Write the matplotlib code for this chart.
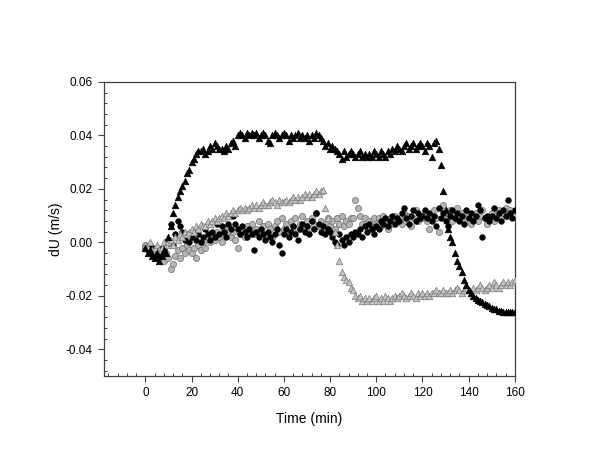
import numpy as np
import matplotlib
matplotlib.use("Agg")
import matplotlib.pyplot as plt
from matplotlib.ticker import MultipleLocator, FormatStrFormatter

plt.rcParams['font.family'] = ['Liberation Sans', 'DejaVu Sans']

# --- Data (dU values, in 1e-3 m/s; one sample per minute) ---
time_min = np.arange(0, 161)

black_tri = [
    -2, -4, -3, -5, -6, -4, -7, -5, -3, -4,
    2, 6, 11, 14, 17, 19, 21, 23, 26, 27,
    30, 31, 33, 34, 34, 35, 33, 34, 36, 35,
    37, 36, 35, 35, 34, 36, 35, 37, 38, 36,
    40, 41, 40, 39, 41, 40, 41, 40, 41, 39,
    40, 41, 40, 38, 37, 40, 41, 40, 39, 40,
    41, 40, 38, 40, 39, 40, 41, 39, 40, 39,
    40, 38, 40, 39, 41, 40, 39, 38, 36, 37,
    35, 36, 35, 34, 33, 31, 34, 32, 33, 34,
    33, 32, 33, 34, 32, 33, 32, 33, 32, 34,
    33, 32, 34, 33, 32, 34, 33, 35, 34, 36,
    35, 34, 36, 37, 35, 36, 37, 35, 36, 37,
    36, 34, 37, 36, 32, 37, 38, 35, 29, 19,
    12, 5, 2, 0, -4, -7, -9, -11, -14, -16,
    -18, -19, -20, -21, -21.5, -22, -22.5, -23, -23.5, -24,
    -24.5, -25, -25, -25.5, -25.5, -26, -26, -26, -26.2, -26.2,
    -26.2,
]

gray_tri = [
    -1, -2, 0, -3, -2, -1, -3, -2, 0, -1,
    0, 1, -1, 2, 1, 3, 2, 4, 3, 4,
    5, 4, 6, 5, 7, 6, 6, 8, 7, 8,
    9, 8, 9, 10, 9, 11, 10, 11, 12, 11,
    12, 13, 12, 13, 12, 13, 14, 13, 14, 13,
    14, 15, 14, 14, 15, 16, 15, 14, 16, 15,
    15, 16, 15, 16, 17, 16, 17, 16, 17, 18,
    17, 18, 17, 18, 19, 18, 19, 19.5, 13, 9,
    np.nan, np.nan, 4, -1, -7, -11, -13, -14, -15, -17,
    -18, -20, -21, -20, -22, -21, -22, -21, -22, -21,
    -20, -22, -21, -22, -20, -21, -22, -21, -20, -21,
    -20, -19, -20, -21, -20, -19, -20, -21, -19, -20,
    -19, -20, -19, -20, -19, -19, -18, -19, -19, -18,
    -19, -19, -18, -19, -18, -17, -18, -19, -18, -17,
    -18, -19, -17, -18, -17, -16, -17, -18, -17, -16,
    -17, -15, -16, -17, -16, -15, -16, -15, -16, -15,
    -14,
]

black_circ = [
    -2, -3, -1, -4, -2, -3, -5, -2, -3, -1,
    1, 7, -1, 3, 8, 6, 4, 1, 3, 0,
    2, 4, 1, 3, 0, 2, 5, 3, 1, 4,
    2, 7, 3, 6, 4, 2, 7, 5, 10, 7,
    5, 3, 6, 4, 2, 5, 3, -3, 4, 2,
    5, 3, 1, 4, 2, 0, 3, 5, -1, -4,
    3, 5, 2, 4, 6, 3, 1, 5, 7, 4,
    6, 3, 8, 5, 11, 7, 4, 6, 3, 5,
    4, 2, 0, -1, 3, 1, -1, 2, 0, 3,
    2, 4, 3, 5, 2, 6, 4, 7, 5, 3,
    6, 5, 8, 7, 9, 6, 8, 10, 7, 9,
    8, 11, 13, 9, 7, 10, 12, 8, 11, 9,
    10, 12, 9, 11, 8, 10, 6, 13, 9, 11,
    8, 6, 10, 12, 9, 11, 8, 10, 7, 12,
    9, 11, 8, 10, 14, 12, 2, 9, 10, 8,
    10, 13, 9, 11, 8, 12, 10, 16, 11, 9,
    12,
]

gray_circ = [
    -1, -3, -2, -4, -5, -2, -6, -3, -7, -4,
    -6, -10, -8, -5, -3, -6, -2, -4, -1, -3,
    -4, -2, -6, -1, -3, 0, -2, 2, 0, 3,
    1, 4, 2, 0, 5, 3, 6, 2, 4, 1,
    -2, 3, 5, 2, 6, 4, 7, 3, 5, 8,
    4, 6, 3, 7, 5, 2, 6, 8, 4, 9,
    5, 7, 4, 8, 6, 9, 5, 7, 10, 6,
    8, 5, 9, 7, 11, 6, 8, 4, 7, 9,
    6, 8, 5, 9, 7, 10, 6, 8, 7, 9,
    9, 16, 13, 10, 7, 9, 6, 8, 5, 9,
    7, 9, 6, 10, 8, 5, 9, 7, 10, 8,
    9, 7, 11, 8, 10, 6, 9, 12, 8, 10,
    9, 11, 8, 5, 10, 12, 9, 4, 13, 14,
    11, 9, 12, 8, 10, 13, 9, 11, 8, 10,
    10, 7, 9, 11, 8, 10, 12, 9, 7, 10,
    11, 8, 10, 12, 9, 11, 13, 10, 12, 11,
    10,
]

series = [
    (gray_circ, 'o', '#b4b4b4', '#6e6e6e', 20),
    (black_circ, 'o', 'black', 'black', 16),
    (gray_tri, '^', '#c4c4c4', '#7a7a7a', 22),
    (black_tri, '^', 'black', 'black', 22),
]

fig = plt.figure(figsize=(6.0, 4.73), dpi=100)
ax = fig.add_axes([0.173, 0.205, 0.685, 0.622])

for vals, marker, fc, ec, size in series:
    y = np.array(vals, dtype=float) / 1000.0
    ax.scatter(time_min, y, marker=marker, s=size, facecolor=fc,
               edgecolor=ec, linewidths=0.5, zorder=3)

ax.set_xlim(-18, 160)
ax.set_ylim(-0.05, 0.06)
ax.xaxis.set_major_locator(MultipleLocator(20))
ax.xaxis.set_minor_locator(MultipleLocator(4))
ax.yaxis.set_major_locator(MultipleLocator(0.02))
ax.yaxis.set_minor_locator(MultipleLocator(0.004))
ax.yaxis.set_major_formatter(FormatStrFormatter('%.2f'))
ax.set_xticks([0, 20, 40, 60, 80, 100, 120, 140, 160])

for sp in ax.spines.values():
    sp.set_color('#404040')
    sp.set_linewidth(0.9)

ax.tick_params(which='major', direction='out', length=4, width=0.8,
               color='#404040', labelsize=8.5, pad=4)
ax.tick_params(which='minor', direction='in', length=2.5, width=0.7,
               color='#404040')
ax.tick_params(top=False, right=False, which='both')

ax.set_xlabel('Time (min)', fontsize=10, labelpad=9)
ax.set_ylabel('dU (m/s)', fontsize=10, labelpad=2)

fig.savefig('out.png', dpi=100)
